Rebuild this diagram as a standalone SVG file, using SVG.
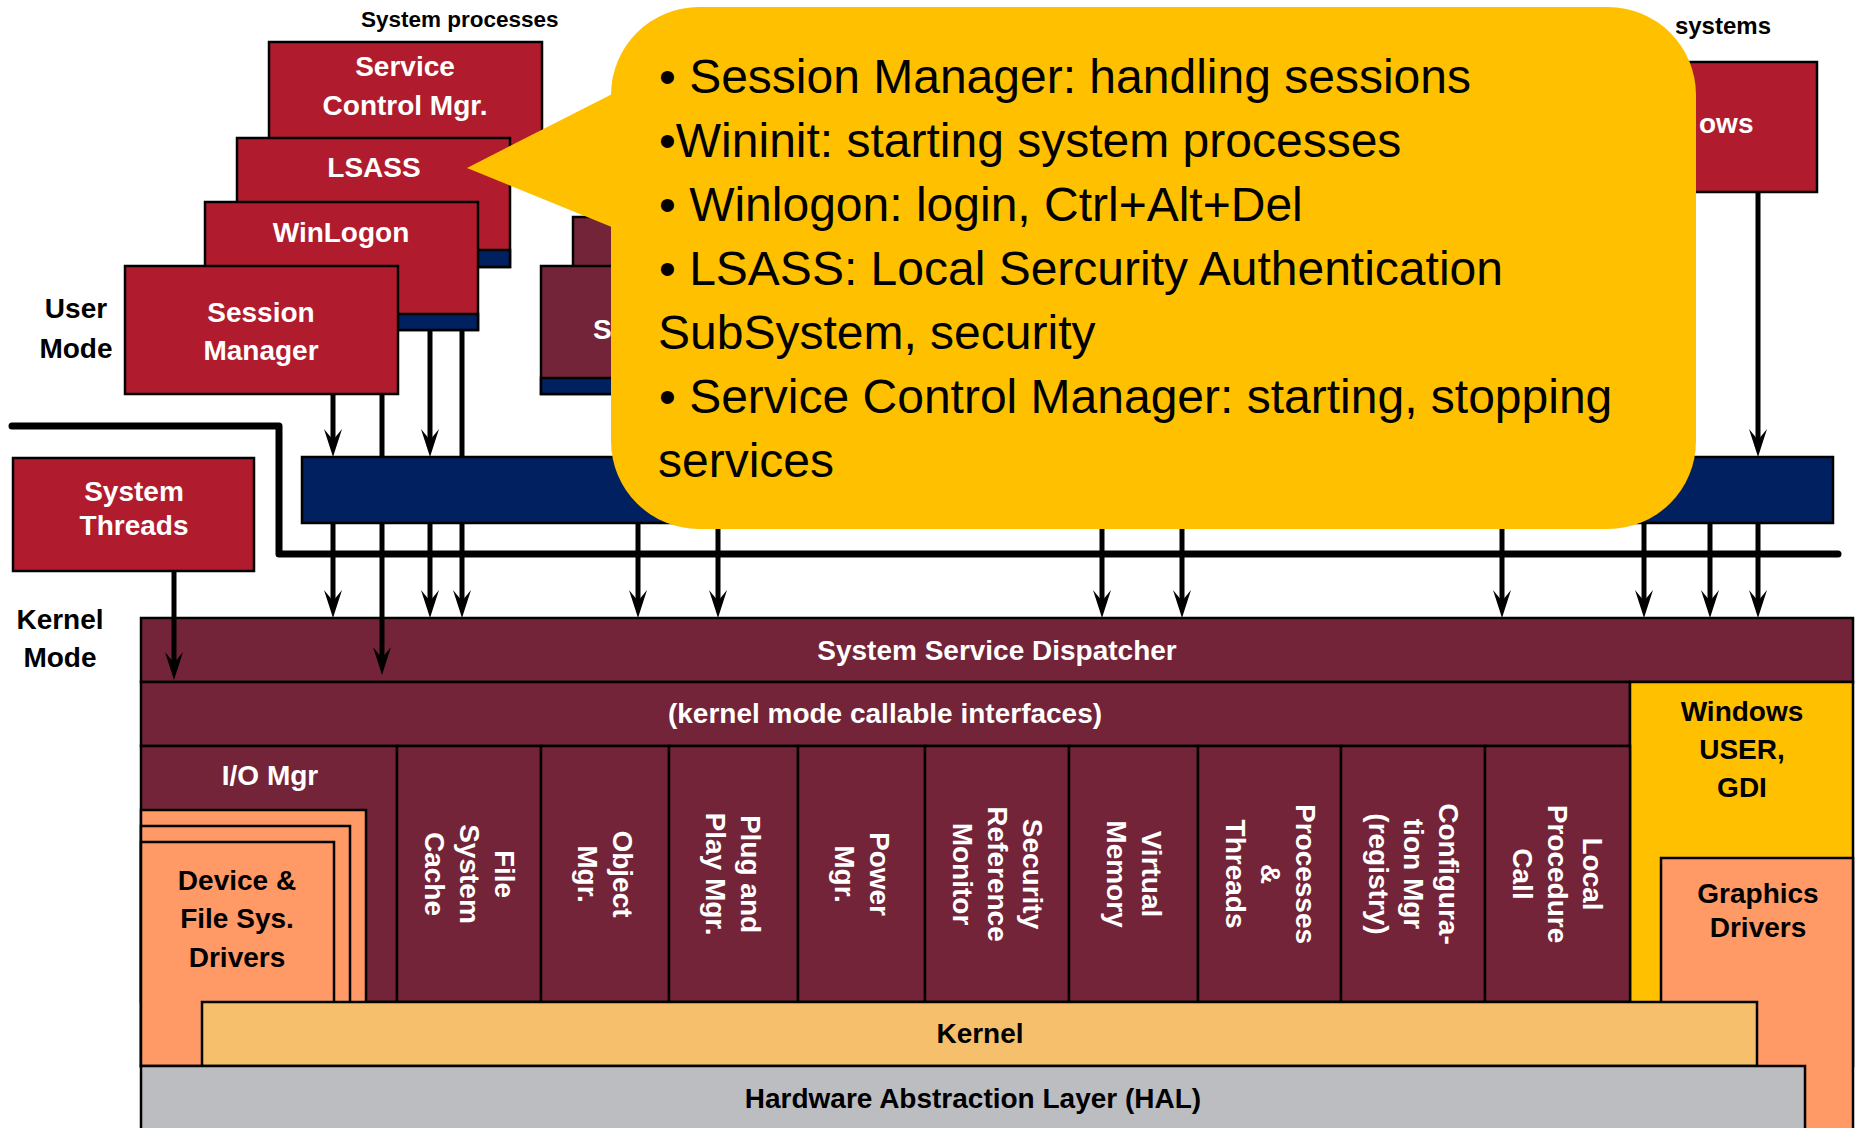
<svg xmlns="http://www.w3.org/2000/svg" width="1858" height="1128" viewBox="0 0 1858 1128">
<style>
.box{stroke:#000;stroke-width:2.5}
.red{fill:#B01C2E}
.mar{fill:#742438}
.navy{fill:#002060}
.gold{fill:#FFC000}
.org{fill:#FF9966}
.krn{fill:#F5BF6B}
.hal{fill:#BCBDC0}
.wt{font-family:"Liberation Sans",Arial,sans-serif;font-weight:bold;font-size:28px;fill:#fff;text-anchor:middle}
.bt{font-family:"Liberation Sans",Arial,sans-serif;font-weight:bold;font-size:28px;fill:#000;text-anchor:middle}
.lbl{font-family:"Liberation Sans",Arial,sans-serif;font-weight:bold;font-size:22.5px;fill:#000}
.call{font-family:"Liberation Sans",Arial,sans-serif;font-size:48px;fill:#000}
.conn{stroke:#000;stroke-width:5;fill:none}
.bound{stroke:#000;stroke-width:7;fill:none;stroke-linecap:round;stroke-linejoin:round}
</style>
<defs>
<marker id="ah" viewBox="0 0 28 18" refX="15" refY="9" markerWidth="28" markerHeight="18" markerUnits="userSpaceOnUse" orient="auto">
<path d="M28,9 L0,0 L11,9 L0,18 Z" fill="#000"/>
</marker>
</defs>
<rect x="0" y="0" width="1858" height="1128" fill="#fff"/>

<!-- kernel block -->
<g id="dispatcher"><rect class="box mar" x="141" y="618" width="1712" height="64"/><text class="wt" x="997" y="660">System Service Dispatcher</text></g>
<g id="kmci"><rect class="box mar" x="141" y="682" width="1489" height="64"/><text class="wt" x="885" y="723">(kernel mode callable interfaces)</text></g>
<g id="winuser"><rect class="box gold" x="1630" y="682" width="223" height="384"/><text class="bt" x="1742" y="721">Windows</text><text class="bt" x="1742" y="759">USER,</text><text class="bt" x="1742" y="797">GDI</text></g>
<g id="gfxdrv"><rect class="box org" x="1661" y="858" width="192" height="280"/><text class="bt" x="1758" y="903">Graphics</text><text class="bt" x="1758" y="937">Drivers</text></g>
<g id="iomgr"><rect class="box mar" x="141" y="746" width="256" height="256"/><text class="wt" x="270" y="785">I/O Mgr</text></g>
<g id="fscache"><rect class="box mar" x="397" y="746" width="144" height="256"/><text class="wt" transform="translate(469,874) rotate(90)"><tspan x="0" y="-26">File</tspan><tspan x="0" y="9">System</tspan><tspan x="0" y="44">Cache</tspan></text></g>
<g id="objmgr"><rect class="box mar" x="541" y="746" width="128" height="256"/><text class="wt" transform="translate(605,874) rotate(90)"><tspan x="0" y="-8">Object</tspan><tspan x="0" y="27">Mgr.</tspan></text></g>
<g id="pnp"><rect class="box mar" x="669" y="746" width="129" height="256"/><text class="wt" transform="translate(733,874) rotate(90)"><tspan x="0" y="-8">Plug and</tspan><tspan x="0" y="27">Play Mgr.</tspan></text></g>
<g id="power"><rect class="box mar" x="798" y="746" width="127" height="256"/><text class="wt" transform="translate(862,874) rotate(90)"><tspan x="0" y="-8">Power</tspan><tspan x="0" y="27">Mgr.</tspan></text></g>
<g id="srm"><rect class="box mar" x="925" y="746" width="144" height="256"/><text class="wt" transform="translate(997,874) rotate(90)"><tspan x="0" y="-26">Security</tspan><tspan x="0" y="9">Reference</tspan><tspan x="0" y="44">Monitor</tspan></text></g>
<g id="vm"><rect class="box mar" x="1069" y="746" width="129" height="256"/><text class="wt" transform="translate(1134,874) rotate(90)"><tspan x="0" y="-8">Virtual</tspan><tspan x="0" y="27">Memory</tspan></text></g>
<g id="procthreads"><rect class="box mar" x="1198" y="746" width="143" height="256"/><text class="wt" transform="translate(1270,874) rotate(90)"><tspan x="0" y="-26">Processes</tspan><tspan x="0" y="9">&amp;</tspan><tspan x="0" y="44">Threads</tspan></text></g>
<g id="cfgmgr"><rect class="box mar" x="1341" y="746" width="144" height="256"/><text class="wt" transform="translate(1413,874) rotate(90)"><tspan x="0" y="-26">Configura-</tspan><tspan x="0" y="9">tion Mgr</tspan><tspan x="0" y="44">(registry)</tspan></text></g>
<g id="lpc"><rect class="box mar" x="1485" y="746" width="145" height="256"/><text class="wt" transform="translate(1557,874) rotate(90)"><tspan x="0" y="-26">Local</tspan><tspan x="0" y="9">Procedure</tspan><tspan x="0" y="44">Call</tspan></text></g>
<g id="drivers"><rect class="box org" x="141" y="810" width="225" height="256"/><rect class="box org" x="141" y="826" width="209" height="240"/><rect class="box org" x="141" y="842" width="193" height="224"/><text class="bt" x="237" y="890">Device &amp;</text><text class="bt" x="237" y="928">File Sys.</text><text class="bt" x="237" y="967">Drivers</text></g>
<g id="kernel"><rect class="box krn" x="202" y="1002" width="1555" height="64"/><text class="bt" x="980" y="1043">Kernel</text></g>
<g id="hal"><rect class="box hal" x="141" y="1066" width="1664" height="72"/><text class="bt" x="973" y="1108">Hardware Abstraction Layer (HAL)</text></g>

<!-- labels -->
<g id="labels">
<text class="lbl" x="361" y="27">System processes</text>
<text class="lbl" x="1771" y="34" text-anchor="end" style="font-size:24px">systems</text>
<text class="bt" x="76" y="318">User</text><text class="bt" x="76" y="358">Mode</text>
<text class="bt" x="60" y="629">Kernel</text><text class="bt" x="60" y="667">Mode</text>
</g>

<!-- user mode process boxes -->
<g id="scm"><rect class="box red" x="269" y="42" width="273" height="128"/><rect class="box navy" x="269" y="154" width="273" height="16"/><text class="wt" x="405" y="76">Service</text><text class="wt" x="405" y="115">Control Mgr.</text></g>
<g id="lsass"><rect class="box red" x="237" y="138" width="273" height="129"/><rect class="box navy" x="237" y="250" width="273" height="17"/><text class="wt" x="374" y="177">LSASS</text></g>
<g id="winlogon"><rect class="box red" x="205" y="202" width="273" height="128"/><rect class="box navy" x="205" y="314" width="273" height="16"/><text class="wt" x="341" y="242">WinLogon</text></g>
<g id="smss"><rect class="box red" x="125" y="266" width="273" height="128"/><text class="wt" x="261" y="322">Session</text><text class="wt" x="261" y="360">Manager</text></g>
<g id="services"><rect class="box mar" x="573" y="217" width="273" height="128"/><rect class="box mar" x="541" y="266" width="273" height="128"/><rect class="box navy" x="541" y="378" width="273" height="16"/><text class="wt" x="593" y="339" style="text-anchor:start">S</text></g>
<g id="windows"><rect class="box red" x="1544" y="62" width="273" height="130"/><text class="wt" x="1699" y="133" style="text-anchor:start">ows</text></g>
<g id="systhreads"><rect class="box red" x="13" y="458" width="241" height="113"/><text class="wt" x="134" y="501">System</text><text class="wt" x="134" y="535">Threads</text></g>

<!-- connectors -->
<g id="connectors">
<path class="bound" d="M12 426 H279 V554 H1838"/>
<line class="conn" x1="174" y1="571" x2="174" y2="667" marker-end="url(#ah)"/>
<line class="conn" x1="333" y1="394" x2="333" y2="444" marker-end="url(#ah)"/>
<line class="conn" x1="333" y1="523" x2="333" y2="605" marker-end="url(#ah)"/>
<line class="conn" x1="382" y1="394" x2="382" y2="662" marker-end="url(#ah)"/>
<line class="conn" x1="430" y1="330" x2="430" y2="444" marker-end="url(#ah)"/>
<line class="conn" x1="430" y1="523" x2="430" y2="605" marker-end="url(#ah)"/>
<line class="conn" x1="462" y1="330" x2="462" y2="605" marker-end="url(#ah)"/>
<line class="conn" x1="638" y1="523" x2="638" y2="605" marker-end="url(#ah)"/>
<line class="conn" x1="718" y1="523" x2="718" y2="605" marker-end="url(#ah)"/>
<line class="conn" x1="1102" y1="523" x2="1102" y2="605" marker-end="url(#ah)"/>
<line class="conn" x1="1182" y1="523" x2="1182" y2="605" marker-end="url(#ah)"/>
<line class="conn" x1="1502" y1="523" x2="1502" y2="605" marker-end="url(#ah)"/>
<line class="conn" x1="1644" y1="523" x2="1644" y2="605" marker-end="url(#ah)"/>
<line class="conn" x1="1710" y1="523" x2="1710" y2="605" marker-end="url(#ah)"/>
<line class="conn" x1="1758" y1="192" x2="1758" y2="444" marker-end="url(#ah)"/>
<line class="conn" x1="1758" y1="523" x2="1758" y2="605" marker-end="url(#ah)"/>
</g>

<g id="ntdll"><rect class="box navy" x="302" y="457" width="1531" height="66"/></g>

<!-- callout -->
<g id="callout">
<rect class="gold" x="611" y="7" width="1085" height="522" rx="88" ry="88"/>
<polygon class="gold" points="467,168 624,88 624,232"/>
<text class="call" x="659" y="93">• Session Manager: handling sessions</text>
<text class="call" x="659" y="157">•Wininit: starting system processes</text>
<text class="call" x="659" y="221">• Winlogon: login, Ctrl+Alt+Del</text>
<text class="call" x="659" y="285">• LSASS: Local Sercurity Authentication</text>
<text class="call" x="658" y="349">SubSystem, security</text>
<text class="call" x="659" y="413">• Service Control Manager: starting, stopping</text>
<text class="call" x="658" y="477">services</text>
</g>
</svg>
